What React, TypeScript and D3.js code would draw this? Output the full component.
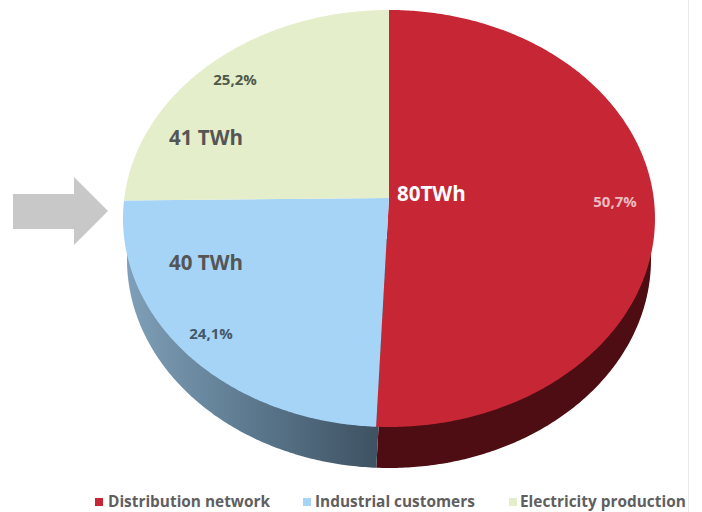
import React from "react";
import * as d3 from "d3";

// Share of electricity per consumer, clockwise from twelve o'clock.
const categories = ["Distribution network", "Industrial customers", "Electricity production"];
const shares = [50.7, 24.1, 25.2];
const shareLabels = ["50,7%", "24,1%", "25,2%"];
const energyLabels = ["80TWh", "40 TWh", "41 TWh"];

const W = 702;
const H = 512;
const FONT = "'Open Sans', sans-serif";

const topFill = ["#c72635", "#a6d4f7", "#e4eecb"];
const legendFill = ["#c72635", "#a6d4f7", "#e4eecb"];

// Tilted disc: a circle under a projective map, so the hub sits above the ellipse centre.
const HUB_X = 389;
const HUB_Y = 198;
const TILT = -0.0983;
const RADIUS_X = 264.7;
const RADIUS_Y = 206.5;
const WALL_DROP = 41;
const WALL_SCALE_X = 0.985;

function discPoint(theta: number, scaleX = 1, drop = 0): [number, number] {
  const u = Math.sin(theta);
  const v = -Math.cos(theta);
  const w = 1 + TILT * v;
  return [HUB_X + (scaleX * RADIUS_X * u) / w, HUB_Y + drop + (RADIUS_Y * v) / w];
}

function wedgePath(start: number, end: number, scaleX = 1, drop = 0): string {
  const steps = Math.max(2, Math.ceil((end - start) / 0.01));
  const angles = d3.range(steps + 1).map((i) => start + ((end - start) * i) / steps);
  const rim = angles.map((a) => discPoint(a, scaleX, drop));
  const hub: [number, number] = [HUB_X, HUB_Y + drop];
  return (d3.line()([hub, ...rim]) as string) + "Z";
}

const arcs = d3.pie<number>().sort(null)(shares);

const labelPos: [number, number][] = [
  [615, 207],
  [211, 339],
  [235, 85],
];
const labelColor = ["#e9bcc0", "#44586a", "#4f5a4a"];
const energyPos: [number, number][] = [
  [397, 201],
  [169, 270],
  [169, 145],
];
const energyColor = ["#ffffff", "#555555", "#555555"];
const legendX = [95, 303, 509];
const legendTextX = [108, 315, 520];

export default function App() {
  return (
    <svg
      width={W}
      height={H}
      viewBox={`0 0 ${W} ${H}`}
      style={{ position: "fixed", left: 0, top: 0, background: "#fff" }}
    >
      <defs>
        <linearGradient id="wallBlue" gradientUnits="userSpaceOnUse" x1={128} x2={377} y1={0} y2={0}>
          <stop offset="0" stopColor="#7f9fb8" />
          <stop offset="0.45" stopColor="#5f7c92" />
          <stop offset="1" stopColor="#3e5262" />
        </linearGradient>
      </defs>

      <line x1={688.5} x2={688.5} y1={0} y2={H} stroke="#e9e9e9" />

      {/* Side wall first, the top face covers everything but the lower rim */}
      <path d={wedgePath(arcs[0].startAngle, arcs[0].endAngle, WALL_SCALE_X, WALL_DROP)} fill="#4e0d13" />
      <path d={wedgePath(arcs[1].startAngle, arcs[1].endAngle, WALL_SCALE_X, WALL_DROP)} fill="url(#wallBlue)" />

      {arcs.map((a, i) => (
        <path key={categories[i]} d={wedgePath(a.startAngle, a.endAngle)} fill={topFill[i]} />
      ))}

      {/* Callout arrow pointing at the pie */}
      <path d="M13,194H74V177L108,211L74,245V229H13Z" fill="#c8c8c8" />

      {shareLabels.map((t, i) => (
        <text
          key={t}
          x={labelPos[i][0]}
          y={labelPos[i][1]}
          textAnchor="middle"
          fontFamily={FONT}
          fontWeight={700}
          fontSize={15}
          fill={labelColor[i]}
        >
          {t}
        </text>
      ))}
      {energyLabels.map((t, i) => (
        <text
          key={t}
          x={energyPos[i][0]}
          y={energyPos[i][1]}
          fontFamily={FONT}
          fontWeight={700}
          fontSize={20.5}
          fill={energyColor[i]}
        >
          {t}
        </text>
      ))}

      {categories.map((c, i) => (
        <g key={c}>
          <rect x={legendX[i]} y={498} width={8} height={8} fill={legendFill[i]} />
          <text
            x={legendTextX[i]}
            y={507}
            fontFamily={FONT}
            fontWeight={700}
            fontSize={15.4}
            fill="#5f5f5f"
          >
            {c}
          </text>
        </g>
      ))}
    </svg>
  );
}
